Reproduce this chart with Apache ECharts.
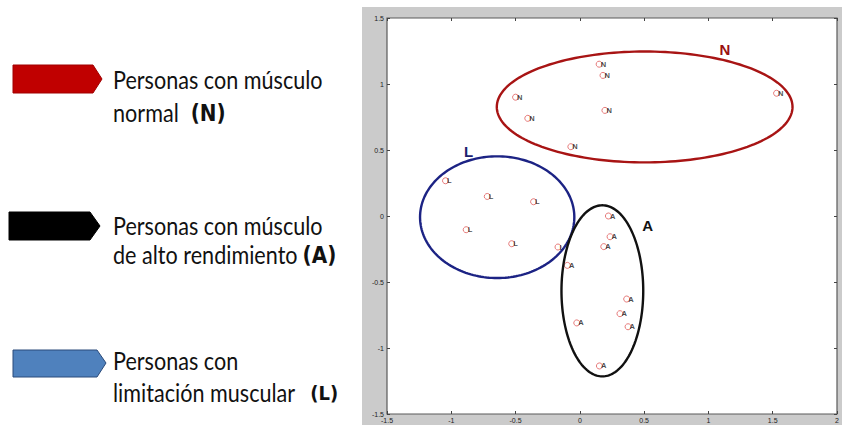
<!DOCTYPE html>
<html>
<head>
<meta charset="utf-8">
<script src="https://cdn.jsdelivr.net/npm/echarts@6/dist/echarts.min.js"></script>
<style>
html,body{margin:0;padding:0;background:#fff;}
#chart{width:842px;height:425px;}
</style>
</head>
<body>
<div id="chart"></div>
<script>
// ---- Data ----
const grupoN = [[0.15,1.15],[0.18,1.065],[-0.5,0.9],[-0.405,0.74],[0.195,0.80],[-0.07,0.525],[1.53,0.93]];
const grupoL = [[-1.045,0.267],[-0.72,0.148],[-0.36,0.108],[-0.884,-0.104],[-0.53,-0.21],[-0.17,-0.235]];
const grupoA = [[0.222,0.0],[0.235,-0.157],[0.186,-0.232],[-0.097,-0.374],[0.364,-0.629],[0.312,-0.74],[0.375,-0.839],[-0.024,-0.81],[0.152,-1.136]];

// ellipses: [centerX, centerY, radiusX, radiusY] in data units; label position in data units
const elipseN = [0.504, 0.826, 1.15, 0.42];
const elipseL = [-0.643, -0.009, 0.60, 0.461];
const elipseA = [0.175, -0.567, 0.318, 0.648];
const etiquetaN = [1.128, 1.26];
const etiquetaL = [-0.866, 0.489];
const etiquetaA = [0.528, -0.073];
const letras = ['N', 'L', 'A'];

const leyendaTextos = [
  ['Personas con músculo', 'normal', '(N)'],
  ['Personas con músculo', 'de alto rendimiento', '(A)'],
  ['Personas con', 'limitación muscular', '(L)']
];

const chart = echarts.init(document.getElementById('chart'), null, {renderer: 'svg'});

function scatterSeries(name, data, letter) {
  return {
    type: 'scatter', name: name, data: data,
    symbol: 'circle', symbolSize: 6,
    itemStyle: {color: 'rgba(0,0,0,0)', borderColor: '#e05a5a', borderWidth: 1},
    label: {show: true, position: 'right', distance: -2, formatter: letter,
      fontSize: 7.5, fontWeight: 'bold', fontFamily: 'Liberation Sans, Arial', color: '#1a1a1a'},
    z: 2
  };
}

const elipseData = [
  elipseN.concat(etiquetaN, [0]),
  elipseL.concat(etiquetaL, [1]),
  elipseA.concat(etiquetaA, [2])
];
const elipseColores = ['#a81414', '#1c2384', '#111111'];
const etiquetaColores = ['#9a1010', '#1c2270', '#111111'];

function renderElipse(params, api) {
  const cx = api.value(0), cy = api.value(1), rx = api.value(2), ry = api.value(3);
  const idx = api.value(6);
  const pts = [];
  for (let i = 0; i < 180; i++) {
    const t = i / 180 * Math.PI * 2;
    pts.push(api.coord([cx + rx * Math.cos(t), cy + ry * Math.sin(t)]));
  }
  const lp = api.coord([api.value(4), api.value(5)]);
  return {
    type: 'group',
    children: [
      {type: 'polygon', shape: {points: pts},
        style: {fill: 'none', stroke: elipseColores[idx], lineWidth: 2.4}},
      {type: 'text', x: lp[0], y: lp[1],
        style: {text: letras[idx], fill: etiquetaColores[idx], font: 'bold 15px "Liberation Sans", Arial',
          textAlign: 'center', textVerticalAlign: 'middle'}}
    ]
  };
}

// left-side legend graphics
const flechas = [
  {pts: [[13,65],[93,65],[102,79],[93,93],[13,93]], fill: '#c00000', stroke: '#a00000'},
  {pts: [[9,212],[90,212],[100,226],[90,240],[9,240]], fill: '#000000', stroke: '#000000'},
  {pts: [[13,350],[97,350],[106,363],[97,377],[13,377]], fill: '#4f81bd', stroke: '#2a4a7a'}
];
const lineas = [[87, 120], [233, 262], [368, 400]];
const huecos = [12, 5, 15];
const tamParen = [20, 20, 18];

const graphics = [
  {type: 'rect', shape: {x: 362, y: 7, width: 480, height: 418}, style: {fill: '#cbcbcb'}, z: -10}
];
flechas.forEach(function (f) {
  graphics.push({type: 'polygon', shape: {points: f.pts}, style: {fill: f.fill, stroke: f.stroke, lineWidth: 1}});
});
leyendaTextos.forEach(function (t, i) {
  graphics.push({type: 'text', x: 113, y: lineas[i][0] + 5, scaleY: 1.12,
    style: {text: t[0], font: '21.6px Lato', fill: '#111', textVerticalAlign: 'bottom'}});
  graphics.push({type: 'text', x: 113, y: lineas[i][1] + 5, scaleY: 1.12,
    style: {text: '{a|' + t[1] + '}{b|' + t[2] + '}', fill: '#111', textVerticalAlign: 'bottom',
      rich: {a: {font: '21.6px Lato', fill: '#111'},
        b: {font: 'bold ' + tamParen[i] + 'px "DejaVu Sans"', fill: '#111', padding: [0, 0, 0, huecos[i]]}}}});
});

const tickFmt = function (v) { return String(Math.round(v * 10) / 10); };
const axisCommon = {
  type: 'value', interval: 0.5,
  axisLine: {show: false, onZero: false},
  splitLine: {show: false},
  axisTick: {show: true, inside: true, length: 3, lineStyle: {color: '#444'}}
};

chart.setOption({
  animation: false,
  backgroundColor: '#ffffff',
  grid: {left: 387, top: 18, right: 5, bottom: 11, show: true, backgroundColor: '#ffffff',
    borderColor: '#5a5a5a', borderWidth: 1.2},
  xAxis: [
    Object.assign({}, axisCommon, {min: -1.5, max: 2, position: 'bottom',
      axisLabel: {show: true, fontSize: 7, color: '#222', margin: 3, formatter: tickFmt,
        showMinLabel: true, showMaxLabel: true, hideOverlap: false}}),
    Object.assign({}, axisCommon, {min: -1.5, max: 2, position: 'top', axisLabel: {show: false}})
  ],
  yAxis: [
    Object.assign({}, axisCommon, {min: -1.5, max: 1.5, position: 'left',
      axisLabel: {show: true, fontSize: 7, color: '#222', margin: 3, formatter: tickFmt,
        showMinLabel: true, showMaxLabel: true, hideOverlap: false}}),
    Object.assign({}, axisCommon, {min: -1.5, max: 1.5, position: 'right', axisLabel: {show: false}})
  ],
  series: [
    scatterSeries('N', grupoN, 'N'),
    scatterSeries('L', grupoL, 'L'),
    scatterSeries('A', grupoA, 'A'),
    {type: 'custom', name: 'elipses', data: elipseData, renderItem: renderElipse, z: 3,
      encode: {x: [0], y: [1]}, clip: false}
  ],
  graphic: graphics
});
</script>
</body>
</html>
